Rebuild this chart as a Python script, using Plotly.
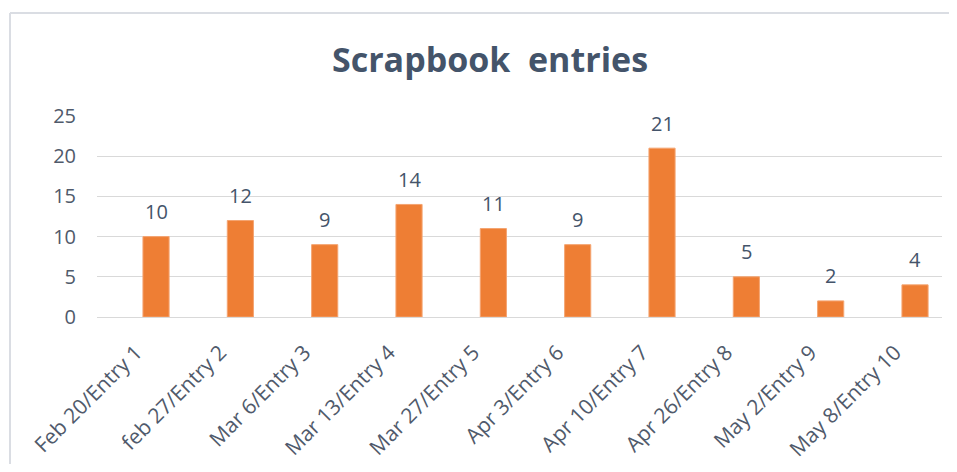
import plotly.graph_objects as go

# data
categories = [
    "Feb 20/Entry 1", "feb 27/Entry 2", "Mar 6/Entry 3", "Mar 13/Entry 4",
    "Mar 27/Entry 5", "Apr 3/Entry 6", "Apr 10/Entry 7", "Apr 26/Entry 8",
    "May 2/Entry 9", "May 8/Entry 10",
]
entries = [10, 12, 9, 14, 11, 9, 21, 5, 2, 4]
y_ticks = [0, 5, 10, 15, 20, 25]

# style
BAR_COLOR = "#EE7E34"
BAR_EDGE = "#F4A471"
TEXT_DARK = "#44546A"
TICK_COLOR = "#505A6B"
GRID_COLOR = "#D9D9D9"
FRAME_COLOR = "#DADDE3"
FONT = "Open Sans, sans-serif"

# page body has an 8px margin, so the figure is drawn offset by (8, 8)
OFF = 8
W, H = 957 - 2 * OFF, 472 - 2 * OFF
L = 97 - OFF           # plot left edge at image x=97
T = 116 - OFF          # plot top at image y=116
R = W - (942 - OFF)    # plot right edge at image x=942
B = H - (317 - OFF)    # plot bottom at image y=317
plot_w = W - L - R
plot_h = H - T - B

fig = go.Figure()

fig.add_trace(go.Bar(
    x=categories,
    y=entries,
    marker=dict(color=BAR_COLOR, line=dict(color=BAR_EDGE, width=1)),
    hoverinfo="x+y",
))

# value labels sit a bit above each bar
for c, v in zip(categories, entries):
    fig.add_annotation(
        x=c, y=v, text=str(v), showarrow=False,
        yanchor="middle", yshift=25,
        font=dict(family=FONT, size=20, color=TEXT_DARK),
    )

# outer chart frame: only its top and left edges are in view
fx0 = (10 - OFF - L) / plot_w
fy1 = (T + plot_h - (13 - OFF)) / plot_h
for x0, y0, x1, y1 in [(fx0, fy1, 1.2, fy1), (fx0, fy1, fx0, -1.5)]:
    fig.add_shape(
        type="line", xref="paper", yref="paper",
        x0=x0, y0=y0, x1=x1, y1=y1,
        line=dict(color=FRAME_COLOR, width=2), layer="below",
    )

fig.update_layout(
    width=W, height=H,
    margin=dict(l=L, r=R, t=T, b=B),
    paper_bgcolor="white",
    plot_bgcolor="white",
    font=dict(family=FONT, color=TICK_COLOR),
    title=dict(
        text="<b>Scrapbook  entries</b>",
        x=(490 - OFF) / W, xanchor="center",
        y=1 - (60 - OFF) / H, yanchor="middle",
        font=dict(family=FONT, size=34, color=TEXT_DARK),
    ),
    bargap=0.69,
    showlegend=False,
    xaxis=dict(
        type="category",
        range=[-0.70, 9.32],
        tickangle=-45,
        tickfont=dict(size=21, color=TICK_COLOR),
        ticklabelshift=-20,
        ticklabelstandoff=18,
        showgrid=False,
        showline=False,
        ticks="",
        automargin=False,
    ),
    yaxis=dict(
        range=[0, 25],
        tickvals=y_ticks,
        tickfont=dict(size=20, color=TICK_COLOR),
        showgrid=True,
        gridcolor=GRID_COLOR,
        gridwidth=1,
        zeroline=True,
        zerolinecolor=GRID_COLOR,
        zerolinewidth=1,
        ticklabelstandoff=20,
        automargin=False,
    ),
)

fig.write_html("out.html")
